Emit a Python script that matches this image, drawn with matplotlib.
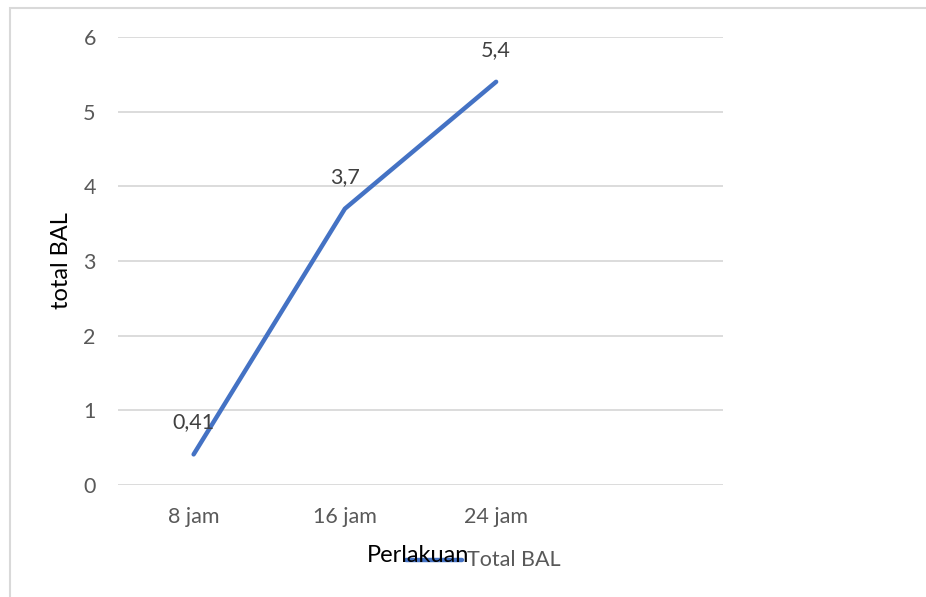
import matplotlib
matplotlib.use("Agg")
import matplotlib.pyplot as plt
from matplotlib.patches import Rectangle
from matplotlib.lines import Line2D

categories = ["8 jam", "16 jam", "24 jam", ""]
values = [0.41, 3.7, 5.4]
value_labels = ["0,41", "3,7", "5,4"]
y_ticks = [0, 1, 2, 3, 4, 5, 6]
series_name = "Total BAL"

plt.rcParams["font.family"] = ["Lato", "DejaVu Sans"]
W, H = 926, 597
fig = plt.figure(figsize=(W / 100, H / 100), dpi=100)

# outer chart frame (left and top edges visible)
fig.patches.append(Rectangle((10 / W, -0.1), 1.2, (597 - 7.5) / H + 0.1,
                             transform=fig.transFigure, fill=False,
                             edgecolor="#D9D9D9", linewidth=1.5))

ax = fig.add_axes([118 / W, (597 - 485) / H, (723 - 118) / W, (485 - 37) / H])
ax.set_xlim(-0.5, len(categories) - 0.5)
ax.set_ylim(0, 6)
for s in ax.spines.values():
    s.set_visible(False)
ax.set_yticks(y_ticks)
ax.set_yticklabels([str(t) for t in y_ticks])
ax.yaxis.grid(True, color="#D9D9D9", linewidth=1.3)
ax.set_axisbelow(True)
ax.set_xticks(range(len(categories)))
ax.set_xticklabels(categories)
ax.tick_params(axis="y", length=0, pad=16, labelsize=15.5, labelcolor="#595959")
ax.tick_params(axis="x", length=0, pad=16, labelsize=15.5, labelcolor="#595959")

xs = list(range(len(values)))
ax.plot(xs, values, color="#4472C4", linewidth=3.2, solid_capstyle="round")
for x, v, lab in zip(xs, values, value_labels):
    ax.annotate(lab, (x, v), xytext=(0, 23), textcoords="offset points",
                ha="center", va="center", fontsize=15.5, color="#404040")

fig.text(61 / W, 1 - 261 / H, "total BAL", rotation=90, ha="center", va="center",
         fontsize=17, color="#000000")
fig.text(418 / W, 1 - 556 / H, "Perlakuan", ha="center", va="center",
         fontsize=17, color="#000000")

# legend entry
fig.lines.append(Line2D([406 / W, 462 / W], [1 - 560 / H] * 2, transform=fig.transFigure,
                        color="#4472C4", linewidth=3.2, solid_capstyle="round"))
fig.text(467 / W, 1 - 560 / H, series_name, ha="left", va="center",
         fontsize=15.5, color="#595959")

fig.savefig("out.png", dpi=100)
